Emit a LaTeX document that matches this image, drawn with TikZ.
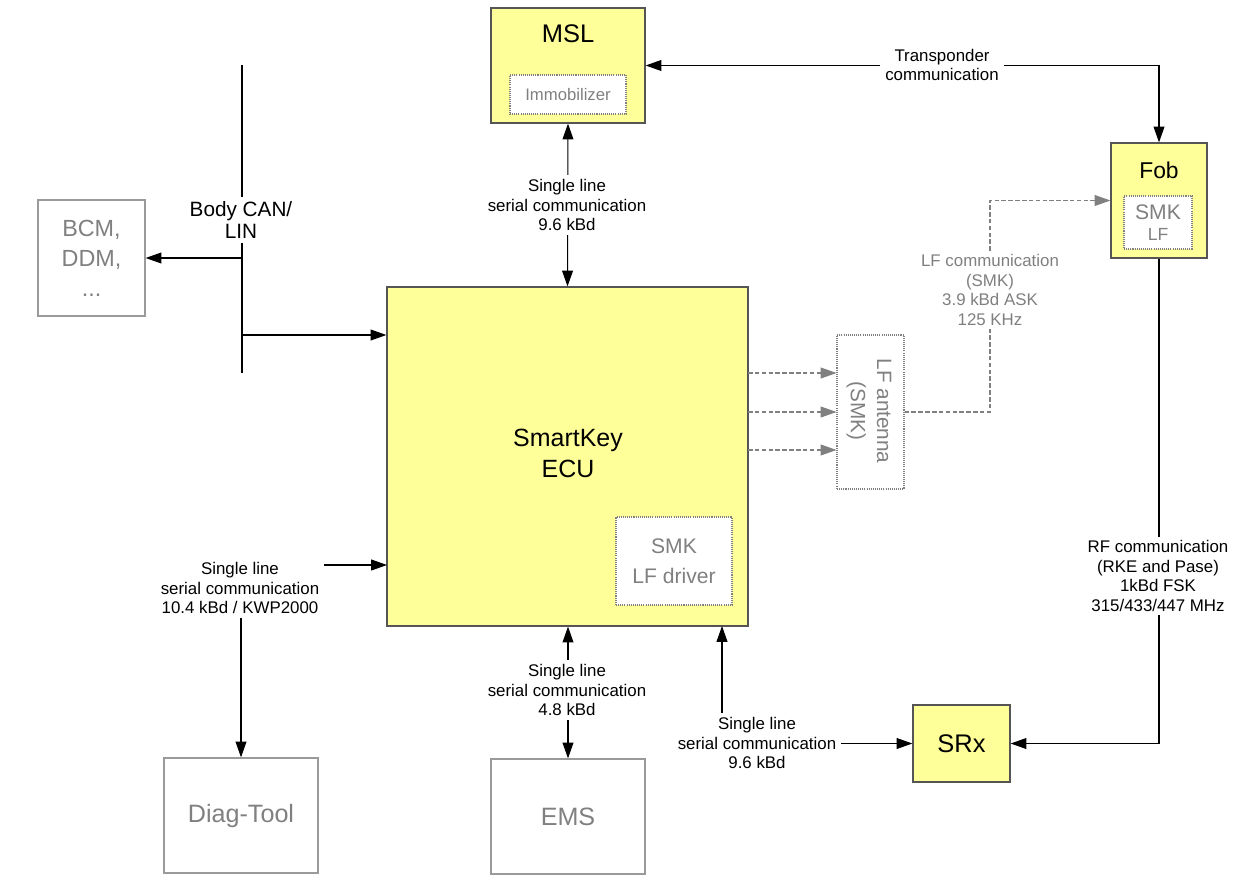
\documentclass[tikz,border=0pt]{standalone}
\usepackage{fontspec}
\setmainfont{Liberation Sans}
\usetikzlibrary{arrows.meta}
\definecolor{boxyellow}{HTML}{FFFF99}
\definecolor{txtgray}{HTML}{808080}
\definecolor{edgegray}{HTML}{9A9A9A}
\definecolor{edgedark}{HTML}{555555}
\begin{document}
\begin{tikzpicture}[x=0.02cm,y=-0.02cm,
  sz/.style 2 args={minimum width=#1*0.02cm, minimum height=#2*0.02cm},
  ybox/.style={draw=edgedark, fill=boxyellow, line width=0.7pt, inner sep=0pt, align=center},
  gbox/.style={draw=edgegray, fill=white, line width=0.7pt, inner sep=0pt, text=txtgray, align=center},
  dbox/.style={draw=txtgray, dash pattern=on 0.6pt off 0.6pt, fill=white, line width=0.6pt, inner sep=0pt, text=txtgray, align=center},
  lbl/.style={font=\fontsize{9.6}{11.3}\selectfont, align=center, fill=white, inner xsep=3pt, inner ysep=2pt},
  conn/.style={line width=0.6pt, draw=black},
  lfconn/.style={line width=0.6pt, draw=txtgray, dash pattern=on 2.6pt off 1.3pt},
  arr/.style={-{Triangle[length=9pt,width=6.2pt]}},
  darr/.style={{Triangle[length=9pt,width=6.2pt]}-{Triangle[length=9pt,width=6.2pt]}}
]
\useasboundingbox (0,0) rectangle (1243,875);

% boxes
\node[ybox, sz={154}{115}] (msl) at (568,65.5) {};
\node[font=\fontsize{14.5}{16}\selectfont] (msltxt) at (568,34) {MSL};
\node[dbox, sz={116}{39}, font=\fontsize{9.5}{11}\selectfont] (immo) at (568,94.5) {Immobilizer};

\node[ybox, sz={96}{115}] (fob) at (1159,200.5) {};
\node[font=\fontsize{13}{15}\selectfont] (fobtxt) at (1159,170) {Fob};
\node[dbox, sz={68}{53}] (fobsmk) at (1158,222.5) {\fontsize{12}{13}\selectfont SMK\\\fontsize{10}{13}\selectfont LF};

\node[ybox, sz={361}{339}] (ecu) at (567.5,456.5) {};
\node[font=\fontsize{14.2}{17.6}\selectfont, align=center] (ecutxt) at (568,453.5) {SmartKey\\ECU};
\node[dbox, sz={116}{88}, font=\fontsize{12}{17}\selectfont] (drv) at (674,561) {SMK\\LF driver};

\node[dbox, sz={67}{154}] (ant) at (870.5,412) {};
\node[rotate=-90, text=txtgray, align=center, font=\fontsize{11.8}{15}\selectfont] (anttxt) at (869,411) {LF antenna\\(SMK)};

\node[gbox, sz={107}{116}, font=\fontsize{13.3}{17}\selectfont] (bcm) at (91.5,258) {BCM,\\DDM,\\...};
\node[gbox, sz={154}{115}, font=\fontsize{14.3}{16}\selectfont] (diag) at (241,815.5) {Diag-Tool};
\node[gbox, sz={154}{115}, font=\fontsize{14.3}{16}\selectfont] (ems) at (568,816.5) {EMS};
\node[ybox, sz={97}{77}, font=\fontsize{14.5}{16}\selectfont] (srx) at (961.5,743.5) {SRx};

% bus
\coordinate (bustop) at (242,65);
\coordinate (busbot) at (242,373);
\coordinate (busbcm) at (242,258);
\coordinate (busecu) at (242,335);
\draw[conn] (bustop) -- (busbot);
\draw[conn, arr] (busbcm) -- (bcm.east |- busbcm);
\draw[conn, arr] (busecu) -- (ecu.west |- busecu);

% connectors
\draw[conn, darr] (msl.east) -| (fob.north);
\draw[conn, darr] (msl.south) -- (ecu.north);
\coordinate (diagin) at (387,565);
\draw[conn, darr] (diag.north) |- (diagin);
\draw[conn, darr] (ems.north) -- (ems.north |- ecu.south);
\coordinate (ecusrx) at (722,626);
\draw[conn, darr] (ecusrx) |- (srx.west);
\draw[conn, arr] (fob.south) |- (srx.east);

% LF
\foreach \yy/\nm in {373/a,412/b,450/c}{
  \coordinate (lfs\nm) at (748,\yy);
  \draw[lfconn, arr] (lfs\nm) -- (ant.west |- lfs\nm);
}
\coordinate (lfcorner1) at (990,412);
\coordinate (lfcorner2) at (990,200.5);
\draw[lfconn, arr] (ant.east |- lfcorner1) -- (lfcorner1) -- (lfcorner2) -- (fob.west);

% labels
\node[lbl, font=\fontsize{11.8}{12}\selectfont, inner ysep=3pt] (buslbl) at (241,220) {Body CAN/\\LIN};
\node[lbl] (translbl) at (942,65) {Transponder\\communication};
\node[lbl] (msllbl) at (567,205) {Single line\\serial communication\\9.6 kBd};
\node[lbl] (emslbl) at (567,690) {Single line\\serial communication\\4.8 kBd};
\node[lbl] (diaglbl) at (240,588) {Single line\\serial communication\\10.4 kBd / KWP2000};
\node[lbl] (srxlbl) at (757,743) {Single line\\serial communication\\9.6 kBd};
\node[lbl] (rflbl) at (1158,576) {RF communication\\(RKE and Pase)\\1kBd FSK\\315/433/447 MHz};
\node[lbl, text=txtgray] (lflbl) at (990,290) {LF communication\\(SMK)\\3.9 kBd ASK\\125 KHz};
\end{tikzpicture}
\end{document}
